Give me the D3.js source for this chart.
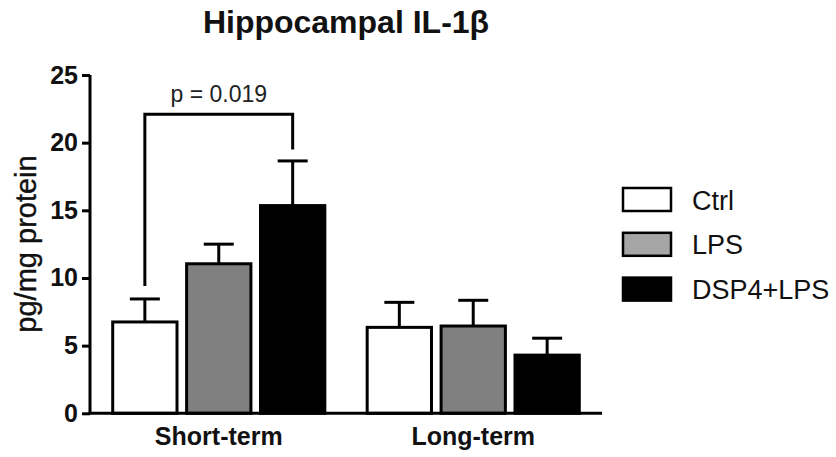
<!DOCTYPE html>
<html>
<head>
<meta charset="utf-8">
<script src="https://cdn.jsdelivr.net/npm/d3@7"></script>
<style>
  html, body { margin: 0; padding: 0; background: #fff; }
  svg { display: block; font-family: "Liberation Sans", Arial, sans-serif; }
</style>
</head>
<body>
<svg id="chart" width="836" height="457"></svg>
<script>
// Hippocampal IL-1β by treatment and time point
const groups = ["Short-term", "Long-term"];
const treatments = ["Ctrl", "LPS", "DSP4+LPS"];
const meanCtrl = [6.75, 6.35];
const meanLPS = [11.05, 6.45];
const meanDSP4 = [15.35, 4.3];
const errCtrl = [1.7, 1.85];
const errLPS = [1.45, 1.9];
const errDSP4 = [3.3, 1.25];
const yTicks = [0, 5, 10, 15, 20, 25];
// significance bracket: Short-term Ctrl vs DSP4+LPS
const sigLabel = "p = 0.019";
const sigTop = 22.1;
const sigLegs = [9.4, 19.5];

const means = [meanCtrl, meanLPS, meanDSP4];
const errs = [errCtrl, errLPS, errDSP4];
const barFill = { "Ctrl": "#ffffff", "LPS": "#808080", "DSP4+LPS": "#000000" };
const legendFill = { "Ctrl": "#ffffff", "LPS": "#a6a6a6", "DSP4+LPS": "#000000" };

const svg = d3.select("#chart");
const x0 = 90, x1 = 602, yBase = 413.3, yTop = 75;

const y = d3.scaleLinear().domain([0, 25]).range([yBase, yTop]);
const xGroup = d3.scaleBand().domain(groups).range([x0, x1])
  .paddingInner(0.12).paddingOuter(0.066);
const xSub = d3.scaleBand().domain(treatments).range([0, xGroup.bandwidth()])
  .paddingInner(0.13).paddingOuter(0.08);

const rows = [];
groups.forEach((g, gi) => {
  treatments.forEach((t, ti) => {
    rows.push({ group: g, treat: t, mean: means[ti][gi], err: errs[ti][gi] });
  });
});
const cx = d => xGroup(d.group) + xSub(d.treat) + xSub.bandwidth() / 2;

// error bars (drawn first so the bar outline sits on top)
const eb = svg.append("g").attr("stroke", "#000").attr("stroke-width", 3);
rows.forEach(d => {
  eb.append("line").attr("x1", cx(d)).attr("x2", cx(d))
    .attr("y1", y(d.mean)).attr("y2", y(d.mean + d.err));
  eb.append("line").attr("x1", cx(d) - 15).attr("x2", cx(d) + 15)
    .attr("y1", y(d.mean + d.err)).attr("y2", y(d.mean + d.err));
});

// bars
svg.append("g").selectAll("rect").data(rows).join("rect")
  .attr("x", d => xGroup(d.group) + xSub(d.treat))
  .attr("y", d => y(d.mean))
  .attr("width", xSub.bandwidth())
  .attr("height", d => y(0) - y(d.mean))
  .attr("fill", d => barFill[d.treat])
  .attr("stroke", "#000")
  .attr("stroke-width", 3);

// y axis
const yAxis = svg.append("g").attr("transform", `translate(${x0},0)`)
  .call(d3.axisLeft(y).tickValues(yTicks).tickSize(8).tickPadding(4));
yAxis.select(".domain").attr("stroke", "#000").attr("stroke-width", 3)
  .attr("d", `M0,${yTop}V${yBase}`);
yAxis.selectAll(".tick line").attr("stroke", "#000").attr("stroke-width", 3);
yAxis.selectAll(".tick text")
  .attr("font-family", "Liberation Sans, Arial, sans-serif")
  .attr("font-size", 25).attr("font-weight", "bold").attr("fill", "#111");

// x axis baseline and group labels
const xAxis = svg.append("g").attr("transform", `translate(0,${yBase})`)
  .call(d3.axisBottom(xGroup).tickSize(0).tickPadding(14));
xAxis.select(".domain").attr("stroke", "#000").attr("stroke-width", 3)
  .attr("d", `M${x0 - 1.5},0H${x1}`);
xAxis.selectAll(".tick text")
  .attr("font-family", "Liberation Sans, Arial, sans-serif")
  .attr("font-size", 25).attr("font-weight", "bold").attr("fill", "#111")
  .attr("dy", "0.71em");

// y axis title
svg.append("text")
  .attr("transform", "translate(36,244) rotate(-90)")
  .attr("text-anchor", "middle")
  .attr("font-size", 29).attr("fill", "#111")
  .attr("stroke", "#111").attr("stroke-width", 0.4)
  .text("pg/mg protein");

// chart title
svg.append("text")
  .attr("x", 346).attr("y", 33)
  .attr("text-anchor", "middle")
  .attr("font-size", 32).attr("font-weight", "bold").attr("fill", "#111")
  .text("Hippocampal IL-1β");

// significance bracket
const sA = rows.find(d => d.group === groups[0] && d.treat === "Ctrl");
const sB = rows.find(d => d.group === groups[0] && d.treat === "DSP4+LPS");
svg.append("path")
  .attr("d", `M${cx(sA)},${y(sigLegs[0])}V${y(sigTop)}H${cx(sB)}V${y(sigLegs[1])}`)
  .attr("fill", "none").attr("stroke", "#000").attr("stroke-width", 3);
svg.append("text")
  .attr("x", (cx(sA) + cx(sB)) / 2).attr("y", y(sigTop) - 12)
  .attr("text-anchor", "middle")
  .attr("font-size", 23).attr("fill", "#222")
  .text(sigLabel);

// legend
const legend = svg.append("g").attr("transform", "translate(623,188)");
treatments.forEach((t, i) => {
  const row = legend.append("g").attr("transform", `translate(0,${i * 44.8})`);
  row.append("rect").attr("x", 0).attr("y", 0).attr("width", 48).attr("height", 23)
    .attr("fill", legendFill[t]).attr("stroke", "#000").attr("stroke-width", 2.5);
  row.append("text").attr("x", 69).attr("y", 21.5)
    .attr("font-size", 27).attr("fill", "#111")
    .text(t);
});
</script>
</body>
</html>
